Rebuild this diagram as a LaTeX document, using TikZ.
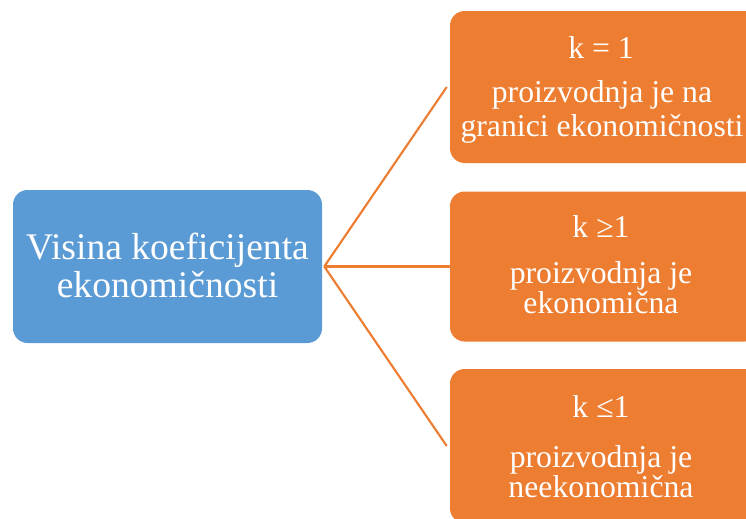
\documentclass[tikz,border=0pt]{standalone}
\usepackage{fontspec}
\setmainfont{Liberation Serif}
\definecolor{bblue}{HTML}{5B9BD5}
\definecolor{oorange}{HTML}{ED7D31}
\tikzset{
  px/.style={x=0.75pt,y=-0.75pt},
  bluebox/.style={fill=bblue,draw=none,rounded corners=11pt,inner sep=0pt,
    minimum width=231.75pt,minimum height=114.75pt},
  orbox/.style={fill=oorange,draw=none,rounded corners=11pt,inner sep=0pt,
    minimum width=232.5pt},
  big/.style={text=white,anchor=base,inner sep=0pt,font=\fontsize{28.2}{34}\selectfont},
  small/.style={text=white,anchor=base,inner sep=0pt,font=\fontsize{23.8}{28}\selectfont},
  conn/.style={draw=oorange,line width=1.6pt}
}
\begin{document}
\begin{tikzpicture}[px]
\useasboundingbox (0,0) rectangle (746,518);
\node[bluebox] (src) at (167.5,266.5) {};
\node[orbox,minimum height=114pt] (o1) at (605,87) {};
\node[orbox,minimum height=112.5pt] (o2) at (605,266.5) {};
\node[orbox,minimum height=115.5pt] (o3) at (605,446) {};
\draw[conn] ([xshift=1.5pt]src.east) -- ([xshift=-2.25pt]o1.west);
\draw[conn] ([xshift=1.5pt]src.east) -- (o2.west);
\draw[conn] ([xshift=1.5pt]src.east) -- ([xshift=-2.25pt]o3.west);
\node[big] (l1) at (167.5,259) {Visina koeficijenta};
\node[big] (l2) at (167.5,297) {ekonomičnosti};
\node[small] (a1) at (601,58) {k = 1};
\node[small] (a2) at (602,102) {proizvodnja je na};
\node[small] (a3) at (602,136) {granici ekonomičnosti};
\node[small] (b1) at (601,237) {k ≥1};
\node[small] (b2) at (601,283) {proizvodnja je};
\node[small] (b3) at (601,313) {ekonomična};
\node[small] (c1) at (601,417) {k ≤1};
\node[small] (c2) at (601,467) {proizvodnja je};
\node[small] (c3) at (601,497) {neekonomična};
\end{tikzpicture}
\end{document}
